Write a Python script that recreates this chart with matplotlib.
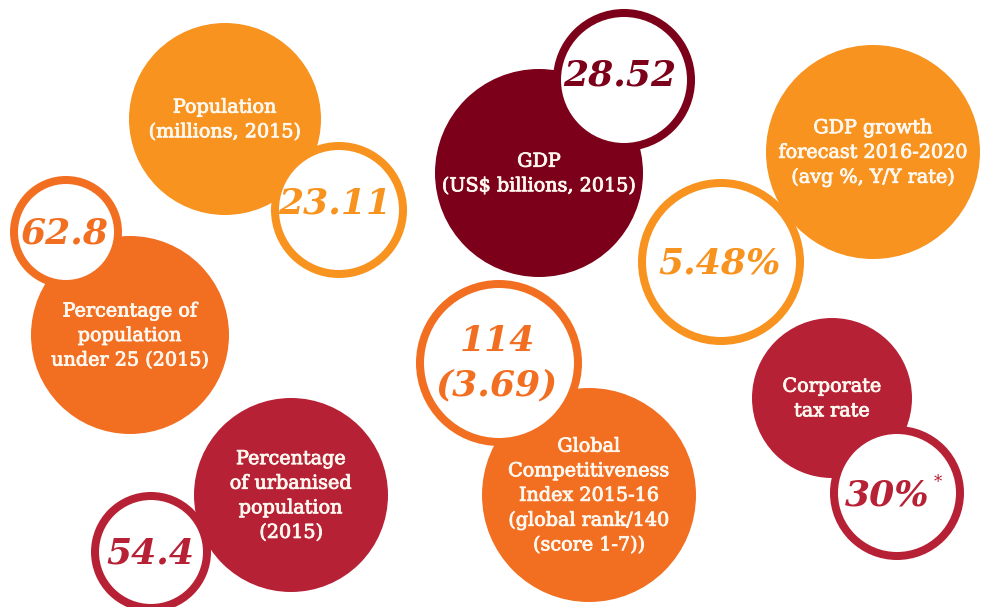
import matplotlib
matplotlib.use("Agg")
import matplotlib.pyplot as plt
from matplotlib.patches import Circle
import matplotlib.patheffects as pe

# ---- data ----
labels = [
    "Population\n(millions, 2015)",
    "Percentage of\npopulation\nunder 25 (2015)",
    "Percentage\nof urbanised\npopulation\n(2015)",
    "GDP\n(US$ billions, 2015)",
    "GDP growth\nforecast 2016-2020\n(avg %, Y/Y rate)",
    "Global\nCompetitiveness\nIndex 2015-16\n(global rank/140\n(score 1-7))",
    "Corporate\ntax rate",
]
values = ["23.11", "62.8", "54.4", "28.52", "5.48%", "114\n(3.69)", "30%"]
value_notes = ["", "", "", "", "", "", "*"]

# ---- styles / layout (pixel space) ----
ORANGE = "#F7931E"
ORANGE_RED = "#F26F22"
CRIMSON = "#B72136"
MAROON = "#7C0019"
colors = [ORANGE, ORANGE_RED, CRIMSON, MAROON, ORANGE, ORANGE_RED, CRIMSON]

label_circles = [(225, 119, 96), (130, 335, 99), (291, 495, 97), (539, 173, 104),
                 (873, 152, 107), (589, 495, 107), (832, 398, 80)]
value_circles = [(339, 210, 68), (66, 232, 56), (151, 552, 60), (624, 80, 71),
                 (721, 262, 83), (499, 363, 83), (897, 493, 67)]
value_text_shift = [(-4, -6), (-2, 1), (-1, 2), (-4, -5), (-1, 1), (-2, 0), (-10, 2)]

W, H = 981, 607
fig = plt.figure(figsize=(W / 100, H / 100), dpi=100)
ax = fig.add_axes([0, 0, 1, 1])
ax.set_xlim(0, W)
ax.set_ylim(H, 0)
ax.axis("off")

border_px = 8
lw = border_px * 72 / 100

for lab, val, note, col, lc, vc, sh in zip(labels, values, value_notes, colors,
                                         label_circles, value_circles, value_text_shift):
    ax.add_patch(Circle((lc[0], lc[1]), lc[2], facecolor=col, edgecolor="none", zorder=1))
    ax.text(lc[0], lc[1] + 1, lab, ha="center", va="center", color="#FFF8F0",
            fontsize=13.8, family="DejaVu Serif", linespacing=1.47, zorder=2,
            path_effects=[pe.withStroke(linewidth=0.6, foreground="#FFF8F0")])
    ax.add_patch(Circle((vc[0], vc[1]), vc[2] - border_px / 2, facecolor="white",
                        edgecolor=col, linewidth=lw, zorder=3))
    ax.text(vc[0] + sh[0], vc[1] + sh[1], val, ha="center", va="center", color=col,
            fontsize=26, family="DejaVu Serif", fontweight="bold", fontstyle="italic",
            linespacing=1.4, zorder=4)
    if note:
        ax.text(vc[0] + 41, vc[1] - 10, note, ha="center", va="center", color=col,
                fontsize=12, family="DejaVu Serif", zorder=4)

fig.savefig("out.png", dpi=100, facecolor="white")
